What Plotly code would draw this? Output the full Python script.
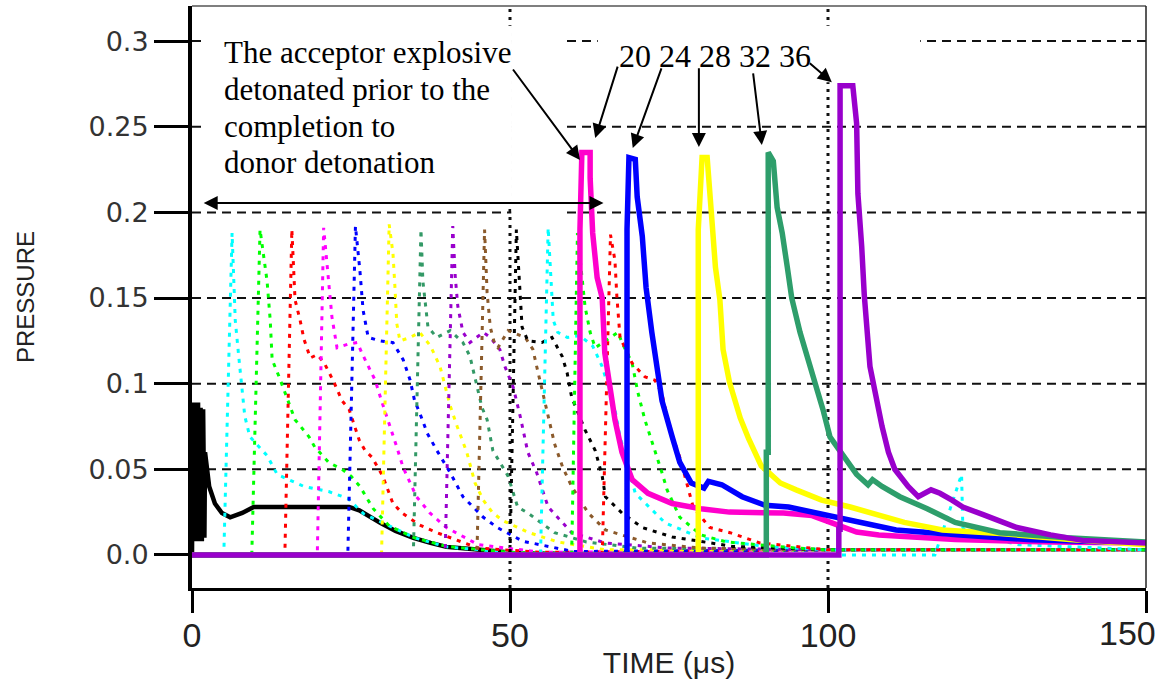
import plotly.graph_objects as go

# ---------------- data ----------------
# Donor gauge (solid black)
donor_t = [0, 0.15, 0.35, 0.55, 0.75, 0.95, 1.15, 1.35, 1.55, 1.75, 1.95, 2.05, 2.7, 3.6, 4.7, 6.0, 7.9, 9.7,
           15.7, 20.0, 24.7, 26.3, 28.0, 29.6, 32.0, 34.8, 37.5, 40.0, 45.3, 50.5, 55.0, 60.0, 70.0]
donor_p = [0, 0.089, 0.008, 0.089, 0.008, 0.089, 0.008, 0.086, 0.008, 0.085, 0.01, 0.06, 0.040, 0.030, 0.0245,
           0.022, 0.0245, 0.028, 0.028, 0.028, 0.028, 0.026, 0.022, 0.0187, 0.014, 0.010, 0.007, 0.0047,
           0.003, 0.0012, 0.0008, 0.0004, 0]

# Donor-side gauges (dotted)
cyan1_t = [0, 5.0, 6.3, 6.8, 7.4, 7.9, 8.3, 9.1, 11.8, 13.4, 17.6, 21.5, 24.5, 27, 30, 35, 40, 50, 60, 80, 100, 150]
cyan1_p = [0, 0, 0.188, 0.137, 0.114, 0.096, 0.081, 0.069, 0.058, 0.047, 0.040, 0.037, 0.033, 0.024, 0.0187,
           0.010, 0.0047, 0.0015, 0.001, 0.002, 0.003, 0.003]
green1_t = [0, 9.4, 10.7, 11.8, 12.3, 12.6, 13.7, 16.2, 18.4, 19.3, 21.5, 23.6, 25, 26.4, 28.5, 31, 35, 40, 50,
            60, 100, 150]
green1_p = [0, 0, 0.19, 0.16, 0.137, 0.114, 0.104, 0.079, 0.069, 0.063, 0.054, 0.050, 0.046, 0.040, 0.027,
            0.017, 0.010, 0.005, 0.0015, 0.001, 0.003, 0.003]
red1_t = [0, 14.6, 15.7, 16.2, 17.0, 17.6, 18.6, 19.7, 20.8, 22.3, 23.6, 24.7, 26.3, 27.2, 28.3, 30, 31.6, 33.2,
          35.8, 38.5, 45, 55, 100, 150]
red1_p = [0, 0, 0.19, 0.149, 0.137, 0.126, 0.115, 0.117, 0.112, 0.101, 0.090, 0.085, 0.067, 0.061, 0.057,
          0.046, 0.030, 0.024, 0.0175, 0.013, 0.004, 0.0015, 0.003, 0.003]
magenta1_t = [0, 19.7, 20.7, 21.2, 21.5, 22.0, 22.8, 24.5, 26.0, 26.7, 28.0, 28.8, 29.8, 30.6, 31.4, 32.2, 33.2,
              34.6, 35.3, 37.4, 40, 45, 55, 100, 150]
magenta1_p = [0, 0, 0.191, 0.172, 0.157, 0.139, 0.121, 0.123, 0.124, 0.118, 0.108, 0.102, 0.090, 0.081, 0.073,
              0.063, 0.051, 0.040, 0.034, 0.0245, 0.016, 0.006, 0.0015, 0.003, 0.003]
blue1_t = [0, 24.5, 25.7, 26.4, 26.9, 27.7, 29.6, 31.6, 33.2, 34.3, 35.0, 35.8, 37.0, 38.5, 40.6, 42.6, 45.8,
           48, 52, 60, 100, 150]
blue1_p = [0, 0, 0.192, 0.166, 0.143, 0.127, 0.125, 0.124, 0.114, 0.102, 0.090, 0.083, 0.071, 0.061, 0.048,
           0.034, 0.022, 0.016, 0.008, 0.002, 0.003, 0.003]
yellow1_t = [0, 29.8, 31.0, 31.6, 31.9, 32.2, 32.7, 34.3, 35.8, 37.5, 39.0, 40.0, 40.6, 41.7, 43.2, 44.5, 45.8,
             47.3, 48.9, 53, 57.5, 65, 100, 150]
yellow1_p = [0, 0, 0.193, 0.176, 0.157, 0.135, 0.125, 0.127, 0.130, 0.122, 0.110, 0.096, 0.087, 0.075, 0.060,
             0.042, 0.032, 0.0245, 0.020, 0.013, 0.0076, 0.003, 0.003, 0.003]
sea1_t = [0, 34.8, 36.0, 36.3, 37.1, 38.5, 40.6, 42.6, 43.7, 44.5, 45.6, 46.4, 47.3, 48.9, 49.7, 51.2, 52.8,
          57, 62, 70, 100, 150]
sea1_p = [0, 0, 0.19, 0.16, 0.133, 0.127, 0.131, 0.124, 0.116, 0.104, 0.086, 0.079, 0.061, 0.051, 0.046,
          0.028, 0.0245, 0.013, 0.0076, 0.004, 0.003, 0.003]
purple1_t = [0, 39.8, 41.0, 41.4, 41.8, 42.6, 43.7, 45.8, 46.9, 48.4, 49.2, 50.5, 51.6, 52.8, 54.2, 56, 59.7,
             65, 75, 100, 150]
purple1_p = [0, 0, 0.192, 0.162, 0.145, 0.13, 0.124, 0.13, 0.127, 0.12, 0.11, 0.098, 0.081, 0.06, 0.048,
             0.028, 0.013, 0.007, 0.004, 0.003, 0.003]
brown1_t = [0, 44.8, 46.0, 46.4, 46.9, 47.6, 48.1, 49.7, 52.4, 53.6, 54.2, 56, 57, 58.3, 59.7, 62.3, 65, 71.7,
            80, 100, 150]
brown1_p = [0, 0, 0.19, 0.153, 0.133, 0.123, 0.121, 0.131, 0.127, 0.12, 0.11, 0.081, 0.065, 0.051, 0.040,
            0.0245, 0.0146, 0.007, 0.004, 0.003, 0.003]
black1_t = [0, 50.0, 51.0, 51.6, 51.9, 52.8, 55, 56.6, 58.2, 59, 59.7, 61.8, 63.4, 64.5, 65, 67.6, 70.8, 75.5,
            85, 100, 150]
black1_p = [0, 0, 0.19, 0.151, 0.133, 0.125, 0.124, 0.127, 0.116, 0.106, 0.092, 0.073, 0.061, 0.046, 0.034,
            0.0245, 0.016, 0.0105, 0.005, 0.003, 0.003]
cyan2_t = [0, 54.8, 56.0, 56.6, 56.8, 57.5, 59.0, 61, 63, 64.5, 66.5, 67.3, 69.7, 74.4, 80, 90, 100, 150]
cyan2_p = [0, 0, 0.191, 0.151, 0.137, 0.13, 0.127, 0.128, 0.122, 0.11, 0.085, 0.069, 0.036, 0.0187, 0.010,
           0.005, 0.003, 0.003]
green2_t = [0, 59.7, 60.6, 61.8, 62.6, 63.4, 65, 67, 67.6, 69.2, 70.1, 71.2, 73.9, 74.7, 76.7, 80, 84, 95,
            100, 150]
green2_p = [0, 0, 0.188, 0.145, 0.13, 0.121, 0.125, 0.13, 0.124, 0.112, 0.095, 0.079, 0.048, 0.038, 0.022,
            0.0117, 0.0076, 0.004, 0.003, 0.003]
red2_t = [0, 64.5, 65.8, 66.5, 66.8, 67.3, 69.2, 71.2, 72.8, 73.9, 74.7, 75.6, 76.7, 78.3, 78.8, 81.4, 84.6,
          89.3, 100, 150]
red2_p = [0, 0, 0.187, 0.172, 0.151, 0.127, 0.112, 0.104, 0.102, 0.094, 0.081, 0.069, 0.057, 0.036, 0.028,
          0.016, 0.013, 0.007, 0.003, 0.003]
cyan3_t = [0, 116.8, 121.0, 121.2, 122, 125, 130, 150]
cyan3_p = [0, 0, 0.047, 0.016, 0.012, 0.010, 0.006, 0.003]

# Acceptor gauges (solid), labelled 20 24 28 32 36
g20_t = [0, 61.0, 61.0, 61.3, 62.6, 62.6, 63.0, 63.7, 64.5, 64.9, 66.5, 67.6, 69.2, 71.7, 75.5, 80, 84.5, 88.7,
         93, 97.5, 100.6, 104.5, 108, 120, 135, 150]
g20_p = [0, 0, 0.19, 0.235, 0.235, 0.22, 0.188, 0.162, 0.15, 0.118, 0.079, 0.06, 0.044, 0.036, 0.030, 0.027,
         0.025, 0.0245, 0.0245, 0.023, 0.0187, 0.0134, 0.0117, 0.009, 0.0075, 0.007]
g24_t = [0, 68.4, 68.4, 68.7, 69.7, 70.0, 70.8, 71.2, 71.4, 72.3, 73.9, 75.5, 76.7, 78.5, 80.5, 81.2, 83.3,
         86.5, 90.1, 93.8, 97.5, 101.1, 105.4, 110.7, 120.8, 132, 150]
g24_p = [0, 0, 0.19, 0.232, 0.231, 0.209, 0.186, 0.162, 0.156, 0.13, 0.09, 0.069, 0.054, 0.042, 0.039, 0.043,
         0.041, 0.034, 0.029, 0.028, 0.025, 0.022, 0.0187, 0.0146, 0.0117, 0.0088, 0.007]
g28_t = [0, 79.6, 79.6, 80.2, 81.0, 81.4, 81.9, 82.3, 83.0, 83.5, 84.5, 86.2, 87.5, 89.5, 92.5, 95, 99, 103.5,
         108, 112, 118, 127, 138, 150]
g28_p = [0, 0, 0.19, 0.232, 0.232, 0.207, 0.188, 0.168, 0.149, 0.12, 0.101, 0.08, 0.068, 0.052, 0.042, 0.038,
         0.032, 0.028, 0.023, 0.019, 0.0146, 0.0125, 0.009, 0.006]
g32_t = [0, 90.3, 90.3, 90.6, 90.6, 91.4, 92.0, 92.8, 93.6, 94.3, 95.6, 97.4, 99.2, 100.3, 102.4, 104.5, 106.3,
         107.0, 108.5, 111.3, 115.6, 120, 127, 137.6, 150]
g32_p = [0, 0, 0.06, 0.06, 0.235, 0.23, 0.203, 0.188, 0.168, 0.15, 0.13, 0.108, 0.085, 0.069, 0.058, 0.047,
         0.041, 0.044, 0.040, 0.034, 0.027, 0.019, 0.013, 0.010, 0.0076]
g36_t = [0, 101.7, 101.7, 101.9, 101.9, 103.9, 104.5, 104.7, 105.3, 105.7, 106.6, 107.7, 108.5, 109.5, 110.5,
         112.6, 114.2, 116.2, 117.6, 119.5, 121.2, 124.4, 129.7, 135, 140, 150]
g36_p = [0, 0, 0.015, 0.015, 0.274, 0.274, 0.252, 0.211, 0.18, 0.152, 0.11, 0.088, 0.075, 0.06, 0.05, 0.04,
         0.034, 0.038, 0.036, 0.032, 0.028, 0.0235, 0.016, 0.0117, 0.0085, 0.007]

y_ticks = [0, 0.05, 0.1, 0.15, 0.2, 0.25, 0.3]
y_tick_labels = ["0.0", "0.05", "0.1", "0.15", "0.2", "0.25", "0.3"]
x_ticks = [0, 50, 100, 150]
x_tick_labels = ["0", "50", "100", ""]
x_last_label = "150"
gauge_labels = "20 24 28 32 36"
note_lines = ["The acceptor explosive", "detonated prior to the", "completion to", "donor detonation"]

# ---------------- figure ----------------
fig = go.Figure()

fig.add_trace(go.Scatter(x=donor_t, y=donor_p, mode="lines",
                         line=dict(color="#000000", width=4.5), showlegend=False))

dotted = [
    (cyan1_t, cyan1_p, "#00FFFF"), (green1_t, green1_p, "#00FF00"), (red1_t, red1_p, "#FF0000"),
    (magenta1_t, magenta1_p, "#FF00FF"), (blue1_t, blue1_p, "#0000FF"), (yellow1_t, yellow1_p, "#FFFF00"),
    (sea1_t, sea1_p, "#339966"), (purple1_t, purple1_p, "#9900CC"), (brown1_t, brown1_p, "#8B5A2B"),
    (black1_t, black1_p, "#000000"), (cyan2_t, cyan2_p, "#00FFFF"), (green2_t, green2_p, "#00FF00"),
    (red2_t, red2_p, "#FF0000"), (cyan3_t, cyan3_p, "#00FFFF"),
]
for t, p, c in dotted:
    fig.add_trace(go.Scatter(x=t, y=p, mode="lines",
                             line=dict(color=c, width=3, dash="4px,6px"), showlegend=False))

solid = [
    (g20_t, g20_p, "#FF00CC"), (g24_t, g24_p, "#0000FF"), (g28_t, g28_p, "#FFFF00"),
    (g32_t, g32_p, "#2E9E6B"), (g36_t, g36_p, "#9900CC"),
]
for t, p, c in solid:
    fig.add_trace(go.Scatter(x=t, y=p, mode="lines",
                             line=dict(color=c, width=5.5), showlegend=False))

shapes = []
for v in y_ticks[1:]:
    shapes.append(dict(type="line", xref="x", yref="y", x0=0, x1=150, y0=v, y1=v,
                       line=dict(color="#111111", width=2, dash="9px,6px"), layer="below"))
for v in x_ticks[1:3]:
    shapes.append(dict(type="line", xref="x", yref="paper", x0=v, x1=v, y0=0, y1=1,
                       line=dict(color="#111111", width=3, dash="3px,5px"), layer="below"))
# white areas behind the notes
shapes.append(dict(type="rect", xref="x", yref="y", x0=1.7, x1=50.3, y0=0.2035, y1=0.309,
                   fillcolor="white", line=dict(width=0), layer="below"))
shapes.append(dict(type="rect", xref="x", yref="y", x0=50.2, x1=58.2, y0=0.198, y1=0.309,
                   fillcolor="white", line=dict(width=0), layer="below"))
shapes.append(dict(type="rect", xref="x", yref="y", x0=63.8, x1=114.5, y0=0.276, y1=0.309,
                   fillcolor="white", line=dict(width=0), layer="below"))
# frame top / right
shapes.append(dict(type="line", xref="paper", yref="paper", x0=0, x1=1, y0=1, y1=1,
                   line=dict(color="#555555", width=1.5)))
shapes.append(dict(type="line", xref="paper", yref="paper", x0=1, x1=1, y0=0, y1=1,
                   line=dict(color="#222222", width=1.5)))

serif = "Liberation Serif, Times New Roman, serif"
annotations = []
line_y = [0.2936, 0.2720, 0.2504, 0.2294]
for txt, yy in zip(note_lines, line_y):
    annotations.append(dict(x=4.7, y=yy, xref="x", yref="y", text=txt, showarrow=False,
                            xanchor="left", yanchor="middle", font=dict(family=serif, size=31, color="black")))
annotations.append(dict(x=66.9, y=0.2913, xref="x", yref="y", text=gauge_labels, showarrow=False,
                        xanchor="left", yanchor="middle", font=dict(family=serif, size=32, color="black")))
# last x tick label kept inside the page
annotations.append(dict(x=1.0125, y=-0.078, xref="paper", yref="paper", text=x_last_label, showarrow=False,
                        xanchor="right", yanchor="middle",
                        font=dict(family="Liberation Sans, Arial", size=34, color="#222222")))

arrows = [
    ((50.3, 0.2843), (61.0, 0.2306)),
    ((67.0, 0.2860), (63.4, 0.2434)),
    ((73.9, 0.2850), (69.3, 0.2376)),
    ((79.7, 0.2850), (79.7, 0.2382)),
    ((88.2, 0.2820), (89.6, 0.2393)),
    ((96.9, 0.2878), (100.6, 0.2760)),
]
for (tx, ty), (hx, hy) in arrows:
    annotations.append(dict(x=hx, y=hy, ax=tx, ay=ty, xref="x", yref="y", axref="x", ayref="y",
                            text="", showarrow=True, arrowhead=2, arrowsize=1.4, arrowwidth=2,
                            arrowcolor="black", standoff=0))
annotations.append(dict(x=64.7, y=0.2055, ax=1.6, ay=0.2055, xref="x", yref="y", axref="x", ayref="y",
                        text="", showarrow=True, arrowhead=2, startarrowhead=2, arrowside="end+start",
                        arrowsize=1.4, startarrowsize=1.4, arrowwidth=2, arrowcolor="black",
                        standoff=0, startstandoff=0))

fig.update_layout(
    width=1159, height=679,
    margin=dict(l=192, r=13, t=6, b=91, autoexpand=False),
    paper_bgcolor="white", plot_bgcolor="white",
    shapes=shapes, annotations=annotations, showlegend=False,
    xaxis=dict(range=[0, 150], tickvals=x_ticks, ticktext=x_tick_labels, ticks="outside",
               ticklen=22, tickwidth=3, tickcolor="black", showline=True, linewidth=3,
               linecolor="black", showgrid=False, zeroline=False, ticklabelstandoff=-7,
               automargin=False,
               tickfont=dict(family="Liberation Sans, Arial", size=34, color="#222222"),
               title=dict(text="TIME (μs)", font=dict(family="Liberation Sans, Arial", size=30,
                                                    color="#222222"), standoff=12)),
    yaxis=dict(range=[-0.0193, 0.3205], tickvals=y_ticks, ticktext=y_tick_labels, ticks="outside",
               ticklen=34, tickwidth=3, tickcolor="black", showline=True, linewidth=4,
               linecolor="black", showgrid=False, zeroline=False, automargin=False,
               tickfont=dict(family="DejaVu Sans", size=27, color="#333333"),
               title=dict(text="PRESSURE", font=dict(family="Liberation Sans, Arial", size=24,
                                                   color="#222222"), standoff=48)),
)

fig.write_html("out.html", config={"displayModeBar": False},
               post_script="document.body.style.margin='0px';")
